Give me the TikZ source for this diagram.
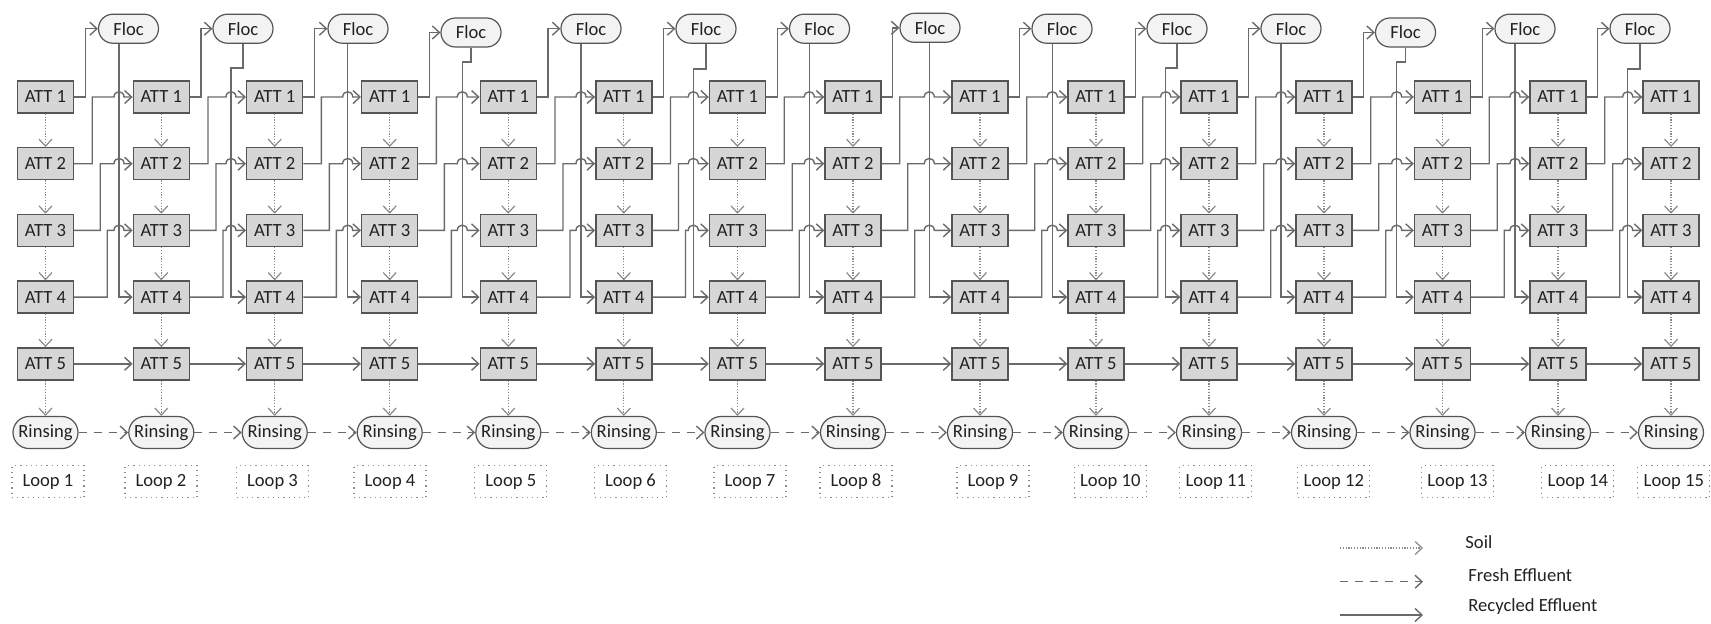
\documentclass[tikz,border=0pt]{standalone}
\usepackage{fontspec}
\setmainfont{Carlito}
\usetikzlibrary{arrows.meta,calc}
\definecolor{boxfill}{HTML}{D6D6D6}
\definecolor{boxdraw}{HTML}{555555}
\definecolor{lightfill}{HTML}{F3F3F3}
\definecolor{linecol}{HTML}{6A6A6A}
\definecolor{dotcol}{HTML}{8A8A8A}
\definecolor{txt}{HTML}{222222}
\tikzset{
  lbl/.style={text=txt, font=\fontsize{9.3}{11}\selectfont},
  att/.style={lbl, draw=boxdraw, fill=boxfill, line width=0.7pt, minimum width=28pt, minimum height=16pt, inner sep=0pt},
  pill/.style={lbl, draw=boxdraw, fill=lightfill, line width=0.6pt, rounded corners=7.2pt, minimum height=14.5pt, minimum width=30pt, inner sep=0pt},
  rinse/.style={pill, rounded corners=8pt, minimum height=16pt, minimum width=32.5pt},
  loopbox/.style={lbl, draw=dotcol, dotted, line width=0.6pt, minimum width=36pt, minimum height=16pt, inner sep=2pt},
  tip/.style={-{Straight Barb[length=3.5pt,width=6.5pt]}},
  soil/.style={tip, draw=dotcol, line width=0.6pt, dash pattern=on 0.6pt off 0.8pt},
  fresh/.style={tip, draw=linecol, line width=0.7pt, dash pattern=on 4pt off 3.5pt},
  rec/.style={tip, draw=linecol, line width=0.7pt},
  legtext/.style={lbl, anchor=west, inner sep=0pt}
}
\begin{document}
\begin{tikzpicture}[x=0.5pt,y=-0.5pt]
\useasboundingbox (0,0) rectangle (1711,623);
% columns
\foreach \c [count=\i] in {45.5,161.3,274.7,389.7,508.3,623.8,737.5,853,980,1096,1209,1324,1442.5,1558,1671} {
  \foreach \k/\y in {1/97,2/163.7,3/230.4,4/297.1,5/363.8} {
    \node[att] (A\i-\k) at (\c,\y) {ATT \k};
  }
  \node[rinse] (R\i) at (\c,432.5) {Rinsing};
  \foreach \k [evaluate=\k as \kk using int(\k+1)] in {1,2,3,4} {
    \draw[soil] (A\i-\k.south) -- (A\i-\kk.north);
  }
  \draw[soil] (A\i-5.south) -- (R\i.north);
}
% loop labels
\foreach \x [count=\i] in {48,161,272.5,390,510.8,630.5,750,856,993,1110.3,1215.8,1333.8,1457.5,1577.8,1673.8} {
  \node[loopbox] (L\i) at (\x,481.7) {Loop \i};
}
% flocs
\foreach \fx/\fy/\lx/\jy [count=\i] in {128.5/28.7/119/0, 243/28.7/231/68, 358/28.7/347.7/0, 471/32.5/462.3/62, 591/28.7/581/0, 706/28.7/693.3/69, 819.5/28.7/809.3/0, 930/27.8/929.3/0, 1062/28.7/1052.3/0, 1177/28.7/1165.7/68, 1291/28.7/1281/0, 1405.5/32.5/1396.7/62, 1525/28.7/1515/0, 1640/28.7/1627.7/69} {
  \node[pill] (F\i) at (\fx,\fy) {Floc};
  \coordinate (V\i) at (\lx,200);
  \pgfmathtruncatemacro\j{\i+1}
  \ifnum\jy=0
    \draw[rec] (F\i.south -| V\i) |- (A\j-4.west);
  \else
    \draw[rec] (F\i.south) |- (\lx,\jy) |- (A\j-4.west);
  \fi
}
% connections between loops
\foreach \i in {1,...,14} {
  \pgfmathtruncatemacro\j{\i+1}
  \draw[rec] (A\i-1.east) -- ++(11,0) |- (F\i.west);
  \draw[rec] (A\i-2.east) -- ++(18,0) |- ($(V\i |- A\j-1.west)+(-5,0)$)
     .. controls +(0,-7) and +(0,-7) .. ($(V\i |- A\j-1.west)+(5,0)$) -- (A\j-1.west);
  \draw[rec] (A\i-3.east) -- ++(26,0) |- ($(V\i |- A\j-2.west)+(-5,0)$)
     .. controls +(0,-7) and +(0,-7) .. ($(V\i |- A\j-2.west)+(5,0)$) -- (A\j-2.west);
  \draw[rec] (A\i-4.east) -- ++(33,0) |- ($(V\i |- A\j-3.west)+(-5,0)$)
     .. controls +(0,-7) and +(0,-7) .. ($(V\i |- A\j-3.west)+(5,0)$) -- (A\j-3.west);
  \draw[rec] (A\i-5.east) -- (A\j-5.west);
  \draw[fresh] (R\i.east) -- (R\j.west);
}
% legend
\coordinate (s1) at (1340,548);   \coordinate (s2) at (1423,548);
\coordinate (f1) at (1340,581.7); \coordinate (f2) at (1423,581.7);
\coordinate (r1) at (1340,615);   \coordinate (r2) at (1423,615);
\draw[soil] (s1) -- (s2);
\draw[fresh] (f1) -- (f2);
\draw[rec] (r1) -- (r2);
\node[legtext] (ls) at (1465,541.7) {Soil};
\node[legtext] (lf) at (1468,575) {Fresh Effluent};
\node[legtext] (lr) at (1468,606.7) {Recycled Effluent};
\end{tikzpicture}
\end{document}
